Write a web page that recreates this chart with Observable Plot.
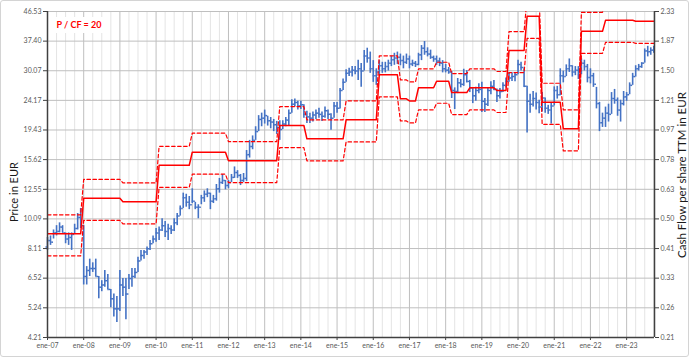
<!DOCTYPE html>
<html>
<head>
<meta charset="utf-8">
<script src="https://cdn.jsdelivr.net/npm/d3@7"></script>
<script src="https://cdn.jsdelivr.net/npm/@observablehq/plot@0.6"></script>
<style>
  html, body { margin: 0; padding: 0; background: #fff; }
  #wrap { position: relative; width: 690px; height: 358px; overflow: hidden; font-family: Lato, "Open Sans", sans-serif; }
  #frame { position: absolute; left: 0; top: 0; width: 687px; height: 355px; border: 1px solid #d4d4d4; border-radius: 3px; pointer-events: none; }
  #ratio { position: absolute; left: 53px; top: 17px; width: 52px; height: 16px; background: #fff; color: #ff0000; font-weight: bold; font-size: 9px; line-height: 16px; text-align: center; }
  .ytitle { position: absolute; transform: translate(-50%, -50%) rotate(-90deg); white-space: nowrap; color: #1a1a1a; font-size: 11.5px; line-height: 14px; }
</style>
</head>
<body>
<div id="wrap"><div id="chart"></div><div id="ratio">P / CF = 20</div>
<div class="ytitle" style="left:14px; top:192px; font-size:11px;">Price in EUR</div>
<div class="ytitle" style="left:682px; top:175px;">Cash Flow per share TTM in EUR</div>
<div id="frame"></div></div>
<script>
// ---- Data (monthly, starting ene-07) ----
const startYear = 2007;
const open = [
 8.2,8.6,8.5,9.1,9.2,9.5,9.1,8.7,8.8,9.0,9.4,10.2,
 9.6,6.6,6.9,7.0,7.0,6.6,6.1,6.2,6.4,6.0,5.6,5.2,
 5.2,6.2,6.1,5.8,6.5,6.6,6.8,7.4,7.7,7.9,8.1,8.4,
 8.7,9.1,9.3,9.6,9.2,9.4,9.3,9.8,10.3,10.9,11.8,11.4,
 11.2,11.5,11.0,11.0,11.8,12.1,12.2,11.5,11.7,12.6,13.2,13.4,
 12.9,13.2,13.7,14.2,13.9,13.4,13.6,16.2,17.2,18.0,19.2,21.0,
 21.2,21.6,20.8,20.6,20.2,19.8,19.5,20.3,20.9,22.0,23.5,23.8,
 23.2,23.4,21.8,21.4,21.2,21.7,22.0,21.8,21.5,22.4,21.8,21.2,
 23.2,22.8,26.0,27.6,29.5,29.8,30.2,30.0,30.5,30.0,33.5,33.0,
 30.5,29.0,29.8,31.2,30.5,31.0,31.8,32.6,33.0,33.2,32.4,32.0,
 32.8,31.6,31.8,31.5,33.8,35.5,34.6,34.0,33.2,32.8,32.3,31.8,
 30.5,30.2,29.8,26.0,25.8,27.5,27.2,29.2,27.8,26.5,25.0,26.0,
 26.2,24.0,23.5,26.0,26.8,26.2,25.0,25.8,27.0,27.8,28.5,28.8,
 29.2,31.5,30.8,26.8,24.0,23.5,24.5,23.8,23.0,24.6,22.8,22.5,
 23.2,26.0,25.2,29.0,28.8,30.5,31.2,29.8,30.2,29.2,31.8,31.0,
 28.6,29.0,27.2,23.6,20.5,21.2,22.0,21.8,24.5,24.2,22.5,23.6,
 24.8,25.2,27.0,28.8,30.5,31.0,31.8,34.8,34.6,35.0
];
const high = [
 8.8,8.9,9.3,9.6,9.8,9.6,9.1,9.1,9.1,9.7,10.5,10.9,
 9.6,7.1,7.5,7.3,7.5,6.6,6.4,6.9,6.7,6.0,5.8,5.7,
 6.9,6.5,6.5,6.7,7.0,7.0,7.6,8.0,8.0,8.2,8.6,8.9,
 9.4,9.5,10.1,9.9,9.7,9.6,10.1,10.5,11.1,12.2,12.1,11.9,
 12.6,11.4,11.2,12.0,12.4,12.6,12.2,12.0,13.0,13.6,14.0,13.4,
 13.4,14.0,14.8,14.4,14.0,14.1,16.7,18.0,18.6,19.9,21.6,22.0,
 22.5,21.5,21.3,21.0,20.7,20.8,20.8,21.3,22.5,24.3,24.4,24.0,
 24.0,23.4,22.3,22.0,22.2,22.5,22.8,22.2,23.0,22.5,21.9,23.8,
 23.8,26.4,28.3,30.3,30.6,31.0,31.0,32.5,31.7,34.9,35.5,34.5,
 32.4,30.5,32.4,32.0,32.0,32.5,33.5,34.2,34.5,34.0,33.5,34.0,
 33.5,32.5,32.2,34.2,36.2,37.3,35.6,35.0,33.5,33.5,33.0,32.4,
 31.5,30.8,29.9,26.5,28.4,28.2,30.4,30.1,28.0,26.5,26.6,27.3,
 27.6,24.5,26.5,27.7,28.0,26.3,26.4,27.5,28.5,29.7,29.6,29.7,
 32.5,32.0,30.5,26.8,25.3,25.8,25.5,24.2,25.6,24.6,23.3,23.8,
 26.7,26.8,30.5,30.0,31.4,32.8,31.2,31.0,31.0,32.8,32.5,31.5,
 30.5,29.5,26.6,23.8,22.0,23.0,23.5,25.6,26.2,24.6,24.2,25.8,
 25.6,27.5,29.5,31.2,31.5,31.9,35.3,36.0,35.6,36.0
];
const low = [
 8.0,8.3,8.7,8.9,9.1,9.1,8.4,8.3,8.0,9.0,9.3,9.4,
 6.2,6.2,6.6,6.8,6.6,5.6,5.9,6.1,6.0,5.24,4.9,4.7,
 5.1,5.7,4.8,6.0,6.1,6.5,6.8,7.4,7.5,7.7,8.0,8.4,
 8.5,8.6,9.2,8.8,8.6,9.0,9.2,9.6,10.3,10.9,11.0,10.8,
 11.3,10.8,10.1,11.2,11.4,11.8,10.8,11.3,11.5,12.2,13.0,12.5,
 12.6,13.2,13.6,13.6,12.9,13.2,13.3,15.8,16.8,18.0,19.2,19.9,
 20.3,20.0,19.6,19.2,18.8,18.0,19.5,19.9,20.0,22.0,23.0,22.5,
 22.6,21.2,20.4,20.4,20.6,21.0,21.2,20.7,21.2,21.0,19.4,21.2,
 22.0,22.7,26.0,27.6,28.8,28.7,29.2,28.0,26.6,30.0,31.8,29.5,
 27.6,27.0,29.0,29.5,29.6,30.0,31.0,31.3,31.5,31.2,30.5,31.5,
 30.5,31.0,30.8,31.2,32.4,33.7,33.3,32.7,32.0,31.3,31.0,29.6,
 29.6,29.3,24.5,22.6,25.4,26.5,26.8,27.5,25.6,23.6,24.0,25.4,
 22.1,22.1,23.1,25.2,26.0,23.8,24.4,25.6,26.5,27.6,27.8,27.7,
 29.2,30.0,26.6,19.0,22.0,23.0,22.5,21.9,22.2,22.0,21.8,20.3,
 23.2,24.4,25.0,27.5,28.8,29.7,28.7,29.0,28.2,29.2,30.0,27.5,
 27.3,26.6,22.7,19.2,19.8,19.8,20.6,21.8,23.5,21.5,20.6,23.2,
 24.0,25.2,27.0,28.7,30.0,30.6,31.8,33.3,33.7,34.2
];
const close = [
 8.6,8.5,9.1,9.2,9.5,9.1,8.7,8.8,9.0,9.4,10.2,9.6,
 6.6,6.9,7.0,7.0,6.6,6.1,6.2,6.4,6.0,5.6,5.2,5.2,
 6.2,6.1,5.8,6.5,6.6,6.8,7.4,7.7,7.9,8.1,8.4,8.7,
 9.1,9.3,9.6,9.2,9.4,9.3,9.8,10.3,10.9,11.8,11.4,11.2,
 11.5,11.0,11.0,11.8,12.1,12.2,11.5,11.7,12.6,13.2,13.4,12.9,
 13.2,13.7,14.2,13.9,13.4,13.6,16.2,17.2,18.0,19.2,21.0,21.2,
 21.6,20.8,20.6,20.2,19.8,19.5,20.3,20.9,22.0,23.5,23.8,23.2,
 23.4,21.8,21.4,21.2,21.7,22.0,21.8,21.5,22.4,21.8,21.2,23.2,
 22.8,26.0,27.6,29.5,29.8,30.2,30.0,30.5,30.0,33.5,33.0,30.5,
 29.0,29.8,31.2,30.5,31.0,31.8,32.6,33.0,33.2,32.4,32.0,32.8,
 31.6,31.8,31.5,33.8,35.5,34.6,34.0,33.2,32.8,32.3,31.8,30.5,
 30.2,29.8,26.0,25.8,27.5,27.2,29.2,27.8,26.5,25.0,26.0,26.2,
 24.0,23.5,26.0,26.8,26.2,25.0,25.8,27.0,27.8,28.5,28.8,29.2,
 31.5,30.8,26.8,24.0,23.5,24.5,23.8,23.0,24.6,22.8,22.5,23.2,
 26.0,25.2,29.0,28.8,30.5,31.2,29.8,30.2,29.2,31.8,31.0,28.6,
 29.0,27.2,23.6,20.5,21.2,22.0,21.8,24.5,24.2,22.5,23.6,24.8,
 25.2,27.0,28.8,30.5,31.0,31.8,34.8,34.6,35.0,35.6
];
// Cash flow per share TTM (EUR): month index at which each value starts
const cfFrom = [0,12,25,37,48,60,77,86,99,110,117,120,123,129,134,140,149,153,159,164,171,177,185,195];
const cfTTM  = [0.452,0.587,0.572,0.749,0.825,0.775,1.004,0.910,1.047,1.459,1.222,1.204,1.326,1.392,1.280,1.326,1.300,1.745,2.245,1.192,0.980,2.010,2.180,2.165];
const pcfRatio = 20, pcfHigh = 23, pcfLow = 17;

// Axis ticks
const priceTicks = [4.21,5.24,6.52,8.11,10.09,12.55,15.62,19.43,24.17,30.07,37.40,46.53];
const cfTickLabels = ["0.21","0.26","0.33","0.41","0.50","0.63","0.78","0.97","1.21","1.50","1.87","2.33"];
const yearTicks = [2007,2008,2009,2010,2011,2012,2013,2014,2015,2016,2017,2018,2019,2020,2021,2022,2023];
const yearLabels = ["ene-07","ene-08","ene-09","ene-10","ene-11","ene-12","ene-13","ene-14","ene-15","ene-16","ene-17","ene-18","ene-19","ene-20","ene-21","ene-22","ene-23"];

// ---- Tables ----
const bars = close.map((c, i) => ({t: startYear + i / 12, open: open[i], high: high[i], low: low[i], close: c}));
const cfSeries = close.map((_, i) => {
  let k = 0;
  for (let j = 0; j < cfFrom.length; j++) if (cfFrom[j] <= i) k = j;
  return {t: startYear + i / 12, cf: cfTTM[k]};
});
const xMax = 2023.77;
const quarterTicks = [];
yearTicks.forEach(y => { [0.25, 0.5, 0.75].forEach(q => { if (y + q < xMax) quarterTicks.push(y + q); }); });
const half = 0.5 / 12;
const blue = "#4472C4", red = "#FF0000", axisCol = "#404040";

const chart = Plot.plot({
  width: 690, height: 358,
  marginLeft: 47, marginRight: 36, marginTop: 11, marginBottom: 21,
  x: {type: "linear", domain: [startYear, xMax]},
  y: {type: "log", domain: [4.21, 46.53]},
  style: {fontFamily: "Lato, 'Open Sans', sans-serif", fontSize: "7px", color: "#595959", background: "white", overflow: "visible"},
  marks: [
    Plot.ruleX(quarterTicks, {stroke: "#e4e4e4", strokeWidth: 1}),
    Plot.ruleX(yearTicks.slice(1), {stroke: "#bfbfbf", strokeWidth: 1}),
    Plot.ruleY(priceTicks.slice(1), {stroke: "#bfbfbf", strokeWidth: 1}),
    // OHLC bars
    Plot.ruleX(bars, {x: "t", y1: "low", y2: "high", stroke: blue, strokeWidth: 1.6}),
    Plot.ruleY(bars, {x1: d => d.t - half, x2: "t", y: "open", stroke: blue, strokeWidth: 1.5}),
    Plot.ruleY(bars, {x1: "t", x2: d => d.t + half, y: "close", stroke: blue, strokeWidth: 1.5}),
    // P/CF lines
    Plot.line(cfSeries, {x: "t", y: d => d.cf * pcfHigh, stroke: red, strokeWidth: 1.2, strokeDasharray: "3.5,2.5", clip: true}),
    Plot.line(cfSeries, {x: "t", y: d => d.cf * pcfLow, stroke: red, strokeWidth: 1.2, strokeDasharray: "3.5,2.5", clip: true}),
    Plot.line(cfSeries, {x: "t", y: d => d.cf * pcfRatio, stroke: red, strokeWidth: 1.5, clip: true}),
    // axes
    Plot.axisY(priceTicks, {anchor: "left", tickFormat: d => d.toFixed(2), tickSize: 4, tickPadding: 2, label: null, stroke: axisCol}),
    Plot.axisY(priceTicks, {anchor: "right", tickFormat: d => cfTickLabels[priceTicks.indexOf(d)], tickSize: 4, tickPadding: 2, label: null, stroke: axisCol}),
    Plot.axisX(yearTicks, {tickFormat: d => yearLabels[yearTicks.indexOf(d)], tickSize: 3, tickPadding: 3, fontSize: 7, label: null, stroke: axisCol}),
    Plot.ruleX([startYear, xMax], {stroke: axisCol, strokeWidth: 1.5}),
    Plot.ruleY([4.21], {stroke: axisCol, strokeWidth: 1.5})
  ]
});
document.getElementById("chart").appendChild(chart);
</script>
</body>
</html>
